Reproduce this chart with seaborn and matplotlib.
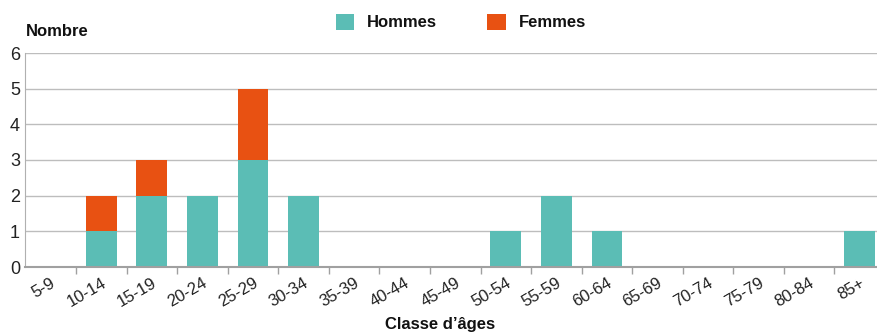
import matplotlib
matplotlib.use("Agg")
import matplotlib.pyplot as plt
import seaborn as sns
import pandas as pd
from matplotlib.patches import Patch
from matplotlib.ticker import FixedLocator

categories = ["5-9", "10-14", "15-19", "20-24", "25-29", "30-34", "35-39", "40-44",
              "45-49", "50-54", "55-59", "60-64", "65-69", "70-74", "75-79", "80-84", "85+"]
hommes = [0, 1, 2, 2, 3, 2, 0, 0, 0, 1, 2, 1, 0, 0, 0, 0, 1]
femmes = [0, 1, 1, 0, 2, 0, 0, 0, 0, 0, 0, 0, 0, 0, 0, 0, 0]

c_h = "#5bbdb5"
c_f = "#e85112"

sns.set_style("white")
plt.rcParams['font.family'] = ['Liberation Sans Narrow', 'Liberation Sans', 'DejaVu Sans']

df = pd.DataFrame({"cat": categories, "h": hommes,
                   "total": [a + b for a, b in zip(hommes, femmes)]})

fig = plt.figure(figsize=(8.78, 3.33), dpi=100)
ax = fig.add_axes([25.5 / 878, 1 - 267 / 333, (885 - 25.5) / 878, (267 - 53) / 333])

sns.barplot(data=df, x="cat", y="total", color=c_f, width=0.61, saturation=1,
            linewidth=0, ax=ax, zorder=3)
sns.barplot(data=df, x="cat", y="h", color=c_h, width=0.61, saturation=1,
            linewidth=0, ax=ax, zorder=4)

ax.set_xlim(-0.5, len(categories) - 0.5)
ax.set_ylim(0, 6)
ax.set_yticks(range(0, 7))
ax.yaxis.grid(True, color="#bdbdbd", linewidth=1, zorder=0)
ax.set_axisbelow(True)

for s in ["top", "right"]:
    ax.spines[s].set_visible(False)
ax.spines["left"].set_color("#b0b0b0")
ax.spines["bottom"].set_color("#a0a0a0")
ax.spines["bottom"].set_linewidth(1.5)
ax.spines["bottom"].set_zorder(5)

ax.xaxis.set_minor_locator(FixedLocator([i + 0.5 for i in range(len(categories) - 1)]))
ax.tick_params(axis="x", which="major", length=0, pad=6)
ax.tick_params(axis="x", which="minor", length=5, width=1, color="#a0a0a0", bottom=True)
ax.tick_params(axis="y", length=0, pad=4, labelsize=13, labelcolor="#222222")
plt.setp(ax.get_xticklabels(), rotation=30, ha="right", rotation_mode="anchor",
         fontsize=12, color="#222222")

ax.set_xlabel("")
ax.set_ylabel("")

fig.text(26 / 878, 1 - 32 / 333, "Nombre", fontsize=12, fontweight="bold",
         color="#111111", va="center", ha="left")
fig.text(440 / 878, 1 - 325 / 333, "Classe d\u2019âges", fontsize=12, fontweight="bold",
         color="#111111", va="center", ha="center")

handles = [Patch(facecolor=c_h, edgecolor="none", label="Hommes"),
           Patch(facecolor=c_f, edgecolor="none", label="Femmes")]
leg = fig.legend(handles=handles, loc="center", bbox_to_anchor=(461 / 878, 1 - 22 / 333),
                 ncol=2, frameon=False, fontsize=12, handlelength=1.1, handleheight=1.1,
                 columnspacing=3.0, handletextpad=0.8)
for t in leg.get_texts():
    t.set_fontweight("bold")
    t.set_color("#111111")

fig.savefig("out.png", dpi=100)
